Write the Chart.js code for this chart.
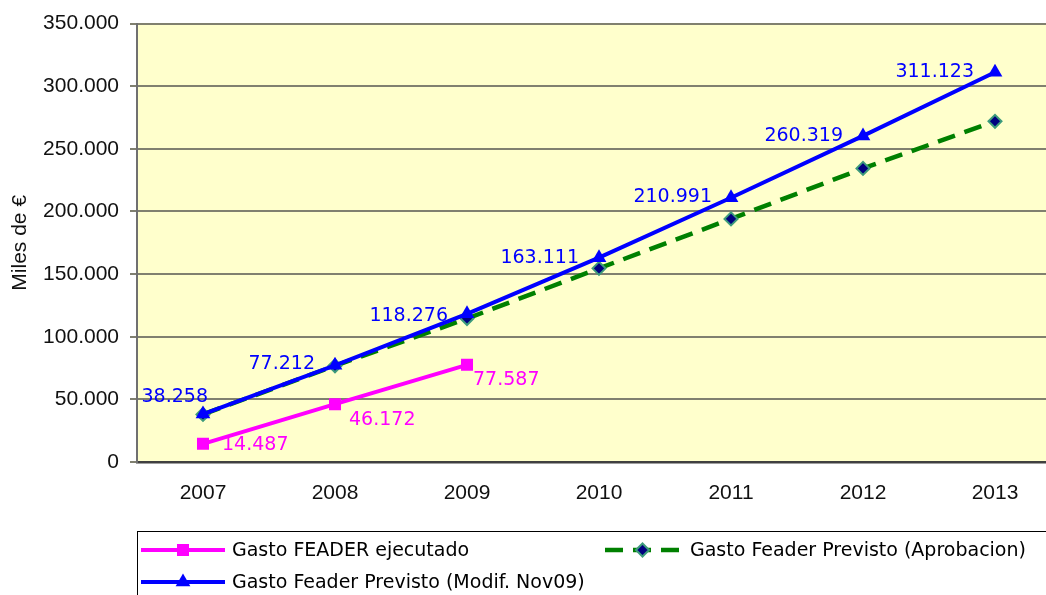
<!DOCTYPE html>
<html>
<head>
<meta charset="utf-8">
<script src="https://cdn.jsdelivr.net/npm/chart.js@4/dist/chart.umd.min.js"></script>
<style>
  html, body { margin: 0; padding: 0; overflow: hidden; background: #fff; }
  #wrap { width: 1046px; height: 595px; overflow: hidden; }
  canvas { display: block; }
</style>
</head>
<body>
<div id="wrap"><canvas id="chart" width="1080" height="620"></canvas></div>
<script>
// data
const years = ["2007", "2008", "2009", "2010", "2011", "2012", "2013"]
const ejecutado = [14487, 46172, 77587, null, null, null, null]
const previstoAprobacion = [38000, 76800, 114500, 154600, 194100, 234400, 272000]
const previstoModif = [38258, 77212, 118276, 163111, 210991, 260319, 311123]
const yTicks = { min: 0, max: 350000, step: 50000 }

const magenta = "#ff00ff", blue = "#0000ff", green = "#008000"
const labelFont = "19px 'DejaVu Sans'"
const axisFont = { family: "'Liberation Sans', Arial", size: 21 }

// thousands with a dot, as in the original
function fmt(v) {
    return String(Math.round(v)).replace(/\B(?=(\d{3})+(?!\d))/g, ".")
}

const datasets = [{
    label: "Gasto FEADER ejecutado",
    data: ejecutado,
    borderColor: magenta,
    backgroundColor: magenta,
    borderWidth: 4,
    pointStyle: "rect",
    pointRadius: 8.5,
    pointBorderWidth: 0,
    order: 0,
    // labels to the right of the points
    labels: { color: magenta, align: "left", dx: [19, 14, 6], dy: [1, 16, 15] }
}, {
    label: "Gasto Feader Previsto (Aprobacion)",
    data: previstoAprobacion,
    borderColor: green,
    backgroundColor: "#000080",
    borderWidth: 4.5,
    borderDash: [18, 10],
    pointStyle: "rectRot",
    pointRadius: 6.5,
    pointBorderColor: "#3d9b7c",
    pointBorderWidth: 2,
    order: 2
}, {
    label: "Gasto Feader Previsto (Modif. Nov09)",
    data: previstoModif,
    borderColor: blue,
    backgroundColor: blue,
    borderWidth: 4,
    pointStyle: "triangle",
    pointRadius: 8.5,
    pointBorderWidth: 0,
    order: 1,
    // labels to the left of the points
    labels: { color: blue, align: "right", dx: [5, -20, -19, -20, -19, -20, -21], dy: [-17, -1, 2, 0, -1, 0, 0] }
}]

const plotBackground = {
    id: "plotBackground",
    beforeDraw(chart) {
        const { ctx, chartArea: a } = chart
        ctx.save()
        ctx.fillStyle = "#ffffcc"
        ctx.fillRect(a.left, a.top, a.right - a.left, a.bottom - a.top)
        ctx.restore()
    }
}

const pointLabels = {
    id: "pointLabels",
    afterDatasetsDraw(chart) {
        const ctx = chart.ctx
        ctx.save()
        ctx.font = labelFont
        ctx.textBaseline = "middle"
        chart.data.datasets.forEach((ds, i) => {
            if (!ds.labels) return
            const meta = chart.getDatasetMeta(i)
            meta.data.forEach((pt, j) => {
                const v = ds.data[j]
                if (v == null) return
                ctx.fillStyle = ds.labels.color
                ctx.textAlign = ds.labels.align
                ctx.fillText(fmt(v), pt.x + ds.labels.dx[j], pt.y + ds.labels.dy[j])
            })
        })
        ctx.restore()
    }
}

const boxLegend = {
    id: "boxLegend",
    afterDraw(chart) {
        const ctx = chart.ctx
        const H = Chart.helpers
        ctx.save()
        ctx.strokeStyle = "#000"
        ctx.lineWidth = 1
        ctx.strokeRect(137.5, 531.5, 1000, 120)

        const entries = [
            { ds: chart.data.datasets[0], x1: 141, x2: 225, y: 550, tx: 232 },
            { ds: chart.data.datasets[1], x1: 605, x2: 680, y: 550, tx: 690 },
            { ds: chart.data.datasets[2], x1: 141, x2: 225, y: 582, tx: 232 }
        ]
        entries.forEach(e => {
            const ds = e.ds
            ctx.save()
            ctx.strokeStyle = ds.borderColor
            ctx.lineWidth = ds.borderWidth
            ctx.setLineDash(ds.borderDash || [])
            ctx.beginPath()
            ctx.moveTo(e.x1, e.y)
            ctx.lineTo(e.x2, e.y)
            ctx.stroke()
            ctx.restore()

            ctx.fillStyle = ds.backgroundColor
            ctx.strokeStyle = ds.pointBorderColor || ds.borderColor
            ctx.lineWidth = ds.pointBorderWidth
            H.drawPoint(ctx, {
                pointStyle: ds.pointStyle,
                radius: ds.pointRadius,
                rotation: 0,
                borderWidth: ds.pointBorderWidth
            }, (e.x1 + e.x2) / 2, e.y)

            ctx.fillStyle = "#000"
            ctx.font = labelFont
            ctx.textAlign = "left"
            ctx.textBaseline = "middle"
            ctx.fillText(ds.label, e.tx, e.y + 1)
        })
        ctx.restore()
    }
}

new Chart(document.getElementById("chart"), {
    type: "line",
    data: { labels: years, datasets },
    plugins: [plotBackground, pointLabels, boxLegend],
    options: {
        responsive: false,
        animation: false,
        layout: { padding: { left: 0, top: 22, right: 19, bottom: 98 } },
        elements: { line: { tension: 0 } },
        plugins: {
            legend: { display: false },
            tooltip: { enabled: false }
        },
        scales: {
            x: {
                offset: true,
                afterFit(scale) { scale.height = 60 },
                grid: { display: false, drawTicks: false },
                border: { display: true, color: "#404040", width: 2.5 },
                ticks: { color: "#111", font: axisFont, padding: 19, maxRotation: 0 }
            },
            y: {
                min: yTicks.min,
                max: yTicks.max,
                afterFit(scale) { scale.width = 137 },
                grid: { color: "#80806f", lineWidth: 2, tickLength: 7 },
                border: { display: true, color: "#707070", width: 2 },
                ticks: {
                    stepSize: yTicks.step,
                    color: "#111",
                    font: axisFont,
                    padding: 11,
                    callback: v => fmt(v)
                },
                title: {
                    display: true,
                    text: "Miles de €",
                    color: "#111",
                    font: axisFont,
                    padding: { top: 8, bottom: 0 }
                }
            }
        }
    }
})
</script>
</body>
</html>
